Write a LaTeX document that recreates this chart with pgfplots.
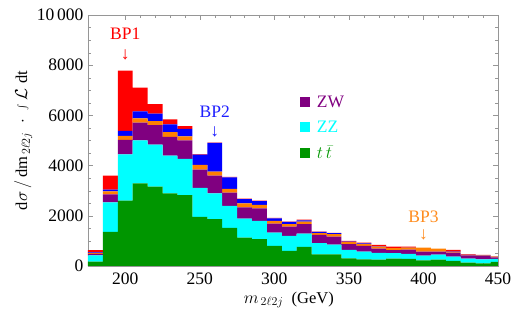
\documentclass[border=0pt]{standalone}
\usepackage{pgfplots}
\usepackage{pgfplotstable}
\pgfplotsset{compat=1.18}
\usepackage{fontspec}
\setmainfont{Liberation Serif}
\definecolor{ttc}{RGB}{0,150,0}
\definecolor{zzc}{RGB}{0,255,255}
\definecolor{zwc}{RGB}{128,0,128}
\definecolor{bpiiic}{RGB}{255,128,0}
\definecolor{bpiic}{RGB}{0,0,255}
\definecolor{bpic}{RGB}{255,0,0}
\definecolor{bpiitext}{RGB}{30,30,255}
\definecolor{bpiiitext}{RGB}{255,140,30}
\definecolor{framec}{RGB}{150,150,150}

\pgfplotstableread{
x   tt   zz   zw   bpiii bpii bpi
180 172  256  60   25    25   90
190 1360 1172 320  120   68   560
200 2600 1852 576  160   200  2400
210 3292 1708 708  172   280  948
220 3160 1680 772  160   296  384
230 2892 1508 748  184   308  200
240 2828 1440 732  160   308  104
250 1960 1148 732  188   412  20
260 1868 1024 708  160   1148 12
270 1520 880  520  148   464  18
280 1132 760  440  160   176  12
290 1068 732  492  148   148  12
300 800  532  360  108   100  20
310 600  600  372  96    92   10
320 760  532  376  104   50   30
330 468  440  332  68    52   8
340 468  384  320  96    40   12
350 308  332  228  80    20   32
360 268  304  228  68    30   34
370 252  268  172  80    8    60
380 292  216  120  80    8    56
390 280  200  172  80    5    35
400 228  184  160  160   0    0
410 252  200  120  120   0    0
420 200  172  160  28    10   70
430 132  160  128  20    8    20
440 108  160  132  16    8    16
450 160  120  68   22    5    13
}\data

\begin{document}
\begin{tikzpicture}
\useasboundingbox (-88pt,-61pt) rectangle (427pt,266pt);
\begin{axis}[
  scale only axis, width=410pt, height=251pt,
  at={(0pt,0pt)}, anchor=south west,
  xmin=175, xmax=450, ymin=0, ymax=10000,
  ybar stacked, bar width=10,
  scaled y ticks=false, scaled x ticks=false,
  axis line style={framec},
  tick style={framec},
  major tick length=5pt, minor tick length=3pt,
  xtick={200,250,...,450},
  minor x tick num=4,
  ytick={0,2000,4000,6000,8000,10000},
  yticklabels={0,2000,4000,6000,8000,10\,000},
  minor y tick num=3,
  tick align=inside,
  xtick pos=both, ytick pos=both,
  xticklabel pos=bottom, yticklabel pos=left,
  ticklabel style={font=\fontsize{17.5}{19}\selectfont, text=black},
  /pgf/number format/assume math mode=true,
  xticklabel style={yshift=-3pt},
  yticklabel style={xshift=-1pt},
  xlabel={$m_{\,2\ell 2j}$\ \ (GeV)},
  ylabel={$\mathrm{d}\sigma\,/\,\mathrm{dm}_{\,2\ell 2j}\;\cdot\;\int\mathcal{L}\;\mathrm{dt}$},
  label style={font=\fontsize{16.5}{18}\selectfont},
  xlabel style={at={(axis description cs:0.49,-0.135)}, anchor=center},
  ylabel style={at={(axis description cs:-0.158,0.5)}, anchor=center},
  legend image code/.code={\fill[#1,draw=none] (0pt,-5pt) rectangle (10pt,5pt);},
  legend entries={\hspace{5pt}\textcolor{zwc}{ZW},\hspace{5pt}\textcolor{zzc}{ZZ},\hspace{5pt}\textcolor{ttc}{$t\,\bar{t}$}},
  legend style={at={(axis cs:315,6950)}, anchor=north west, draw=none, fill=none,
    font=\fontsize{17.5}{20}\selectfont, row sep=8pt},
  legend cell align=left,
]
\addlegendimage{fill=zwc}
\addlegendimage{fill=zzc}
\addlegendimage{fill=ttc}
\addplot[fill=ttc, draw=none] table[x=x,y=tt]{\data};
\addplot[fill=zzc, draw=none] table[x=x,y=zz]{\data};
\addplot[fill=zwc, draw=none] table[x=x,y=zw]{\data};
\addplot[fill=bpiiic, draw=none] table[x=x,y=bpiii]{\data};
\addplot[fill=bpiic, draw=none] table[x=x,y=bpii]{\data};
\addplot[fill=bpic, draw=none] table[x=x,y=bpi]{\data};

\node[text=bpic, font=\fontsize{17.5}{20}\selectfont] at (axis cs:200,9250) {BP1};
\node[text=bpic, font=\fontsize{17.5}{20}\selectfont] at (axis cs:200,8400) {↓};
\node[text=bpiitext, font=\fontsize{17.5}{20}\selectfont] at (axis cs:260,6150) {BP2};
\node[text=bpiitext, font=\fontsize{17.5}{20}\selectfont] at (axis cs:260,5350) {↓};
\node[text=bpiiitext, font=\fontsize{17.5}{20}\selectfont] at (axis cs:400,1950) {BP3};
\node[text=bpiiitext, font=\fontsize{17.5}{20}\selectfont] at (axis cs:400,1250) {↓};
\end{axis}
\end{tikzpicture}
\end{document}
